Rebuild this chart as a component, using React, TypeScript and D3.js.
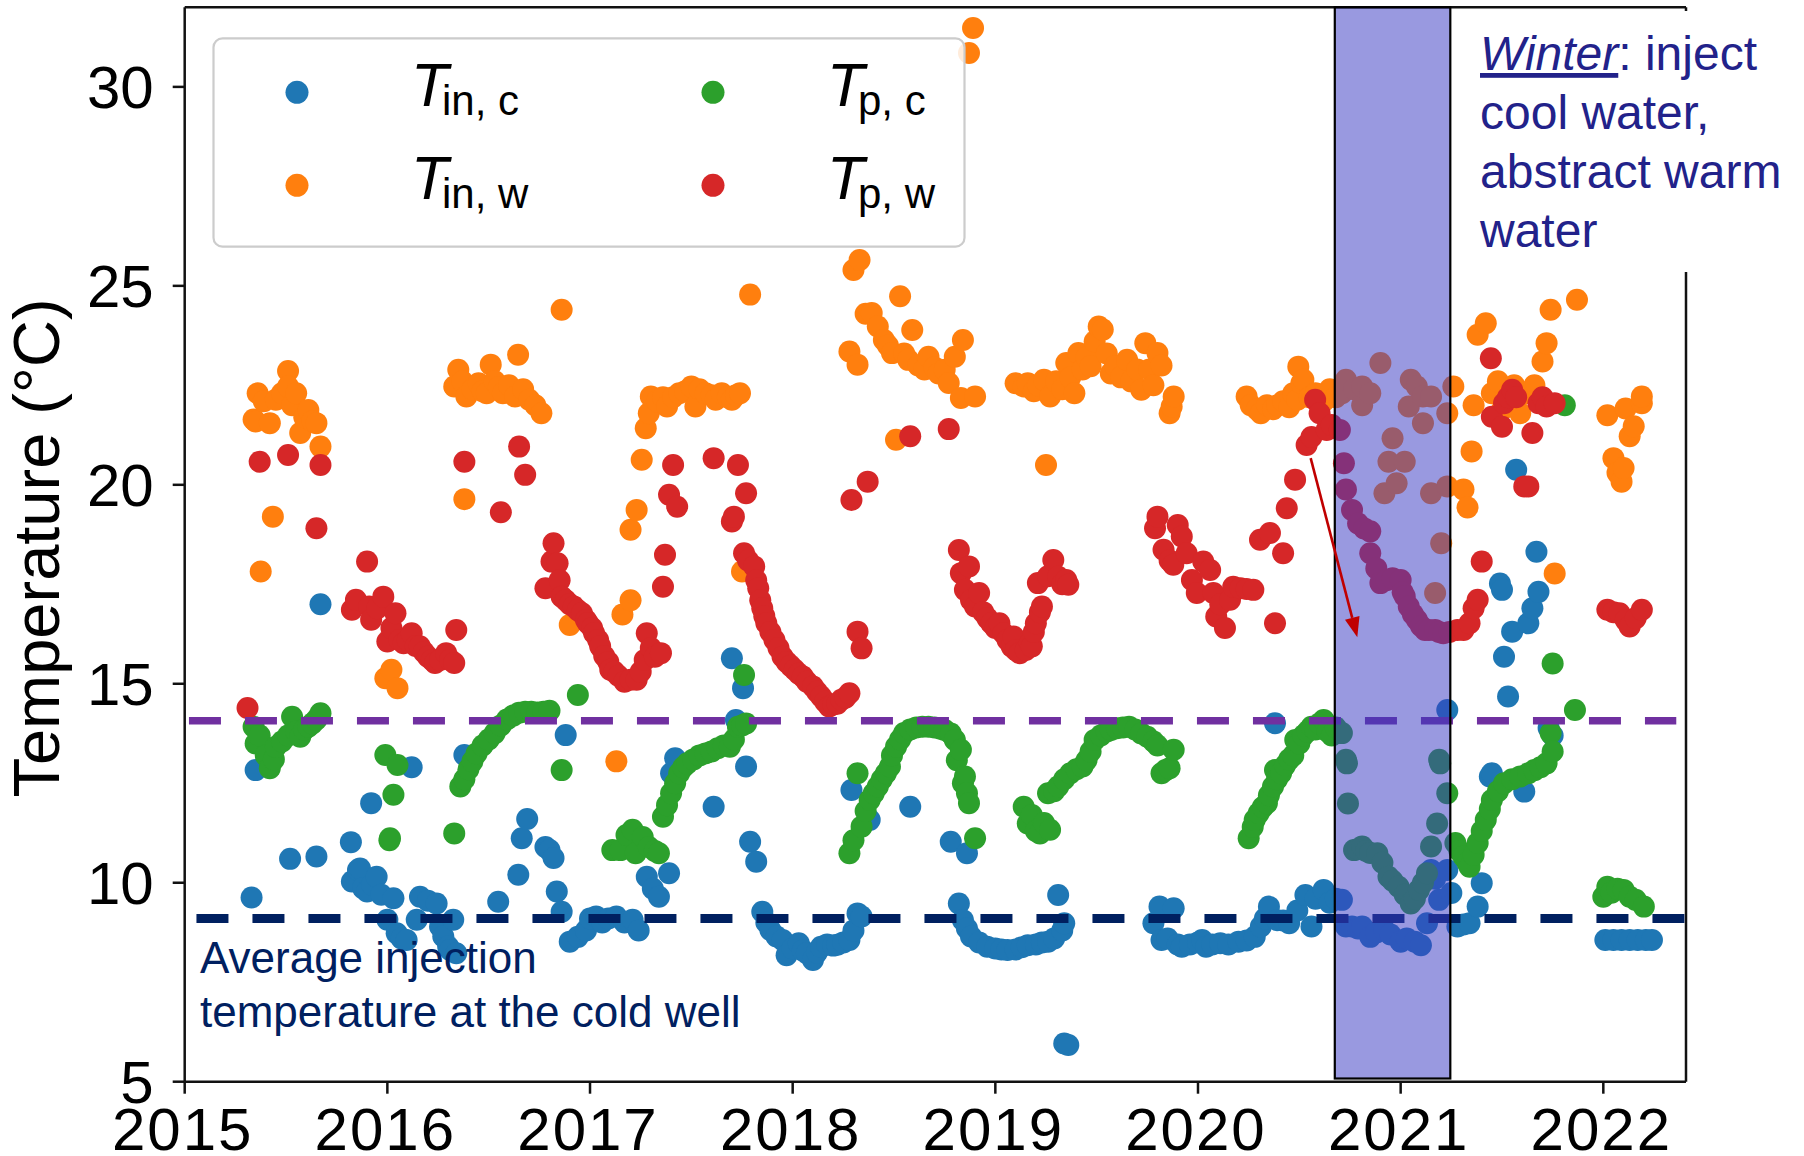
import React from "react";
import * as d3 from "d3";

type Pt = [number, number];

// Axis ticks
const yearTicks = [2015, 2016, 2017, 2018, 2019, 2020, 2021, 2022];
const tempTicks = [5, 10, 15, 20, 25, 30];

// Injection temperature, cold well  [decimal year, °C]
const tInCold: Pt[] = [
  [2015.33, 9.63], [2015.35, 12.83], [2015.52, 10.6], [2015.65, 10.66], [2015.67, 17.0],
  [2015.82, 11.02], [2015.825, 10.03], [2015.855, 10.32], [2015.865, 10.36], [2015.88, 9.86], [2015.9, 9.78],
  [2015.92, 12.0], [2015.925, 9.95], [2015.947, 10.15], [2015.97, 9.7], [2016.0, 9.07], [2016.03, 9.61],
  [2016.046, 8.73], [2016.07, 8.6], [2016.095, 8.56], [2016.12, 12.9], [2016.145, 9.07], [2016.161, 9.65],
  [2016.2, 9.55], [2016.243, 9.48], [2016.26, 8.9], [2016.276, 8.65], [2016.3, 8.4], [2016.31, 8.31],
  [2016.325, 9.07], [2016.34, 8.23], [2016.38, 13.21],
  [2016.547, 9.52], [2016.646, 10.2], [2016.663, 11.12], [2016.69, 11.6], [2016.78, 10.9], [2016.8, 10.82],
  [2016.82, 10.62], [2016.836, 9.78], [2016.86, 9.27], [2016.88, 13.71], [2016.9, 8.52], [2016.94, 8.64],
  [2016.98, 8.8], [2017.0, 9.1], [2017.03, 9.15], [2017.06, 9.0], [2017.09, 9.1], [2017.13, 9.15],
  [2017.17, 9.0], [2017.21, 9.07], [2017.24, 8.8],
  [2017.28, 10.15], [2017.31, 9.85], [2017.34, 9.65], [2017.39, 10.24], [2017.4, 12.75], [2017.42, 13.13],
  [2017.61, 11.91], [2017.7, 15.64], [2017.72, 14.09], [2017.755, 14.89], [2017.77, 12.92], [2017.79, 11.03],
  [2017.82, 10.53],
  [2017.85, 9.27], [2017.87, 9.0], [2017.89, 8.81], [2017.92, 8.65], [2017.95, 8.56], [2017.97, 8.18],
  [2018.0, 8.35], [2018.03, 8.48], [2018.05, 8.3], [2018.07, 8.23], [2018.1, 8.06], [2018.12, 8.25],
  [2018.14, 8.39], [2018.17, 8.45], [2018.2, 8.42], [2018.22, 8.44], [2018.25, 8.5], [2018.28, 8.56],
  [2018.3, 8.8], [2018.32, 9.23], [2018.34, 9.15],
  [2018.29, 12.33], [2018.38, 11.58], [2018.58, 11.91], [2018.78, 11.03], [2018.86, 10.74],
  [2018.82, 9.48], [2018.84, 9.06], [2018.86, 8.85], [2018.88, 8.65], [2018.92, 8.5], [2018.96, 8.39],
  [2019.0, 8.35], [2019.03, 8.32], [2019.06, 8.31], [2019.1, 8.32], [2019.13, 8.38], [2019.16, 8.43],
  [2019.2, 8.45], [2019.23, 8.5], [2019.26, 8.52], [2019.29, 8.6], [2019.31, 9.69], [2019.33, 8.8],
  [2019.34, 8.98], [2019.34, 5.96], [2019.36, 5.92],
  [2019.78, 8.98], [2019.81, 9.4], [2019.82, 8.56], [2019.85, 8.6], [2019.88, 9.36], [2019.9, 8.45],
  [2019.92, 8.39], [2019.96, 8.45], [2020.0, 8.5], [2020.02, 8.56], [2020.04, 8.39], [2020.07, 8.45],
  [2020.11, 8.48], [2020.15, 8.45], [2020.2, 8.52], [2020.24, 8.55], [2020.28, 8.64], [2020.31, 8.9],
  [2020.33, 9.1], [2020.35, 9.4], [2020.38, 14.01], [2020.39, 9.06], [2020.42, 9.05], [2020.45, 8.98],
  [2020.49, 9.3], [2020.53, 9.69], [2020.56, 8.9], [2020.58, 9.6], [2020.62, 9.82], [2020.65, 9.5],
  [2020.68, 9.6],
  [2020.71, 9.57], [2020.73, 8.9], [2020.76, 8.9], [2020.79, 8.85], [2020.81, 8.9], [2020.85, 8.64],
  [2020.88, 8.75], [2020.92, 8.81], [2020.95, 8.7], [2021.0, 8.52], [2021.03, 8.6], [2021.07, 8.52],
  [2021.1, 8.43], [2021.13, 8.98], [2021.15, 10.32], [2021.17, 10.1], [2021.19, 9.57], [2021.23, 10.32],
  [2021.23, 14.34], [2021.25, 9.74],
  [2021.28, 8.9], [2021.31, 8.95], [2021.34, 8.98], [2021.38, 9.4], [2021.4, 9.99], [2021.44, 12.67],
  [2021.45, 12.75], [2021.49, 17.52], [2021.5, 17.36], [2021.51, 15.68], [2021.53, 14.68], [2021.55, 16.31],
  [2021.57, 20.38], [2021.61, 12.29], [2021.63, 16.52], [2021.65, 16.9], [2021.67, 18.32], [2021.68, 17.31],
  [2021.73, 13.89], [2021.75, 13.7],
  [2022.01, 8.56], [2022.05, 8.56], [2022.09, 8.56], [2022.13, 8.56], [2022.17, 8.56], [2022.21, 8.56],
  [2022.24, 8.56],
];

// Injection temperature, warm well
const tInWarm: Pt[] = [
  [2015.34, 21.64], [2015.35, 21.59], [2015.36, 22.3], [2015.375, 17.82], [2015.39, 22.1], [2015.42, 21.55],
  [2015.435, 19.2], [2015.45, 22.14], [2015.48, 22.3], [2015.51, 22.86], [2015.51, 22.47], [2015.53, 22.0],
  [2015.55, 22.3], [2015.57, 21.3], [2015.59, 21.7], [2015.61, 21.88], [2015.63, 21.6], [2015.65, 21.55],
  [2015.67, 20.96],
  [2015.99, 15.14], [2016.02, 15.35], [2016.05, 14.89],
  [2016.33, 22.47], [2016.35, 22.89], [2016.37, 22.6], [2016.38, 19.64], [2016.39, 22.22], [2016.42, 22.4],
  [2016.45, 22.55], [2016.47, 22.35], [2016.49, 22.3], [2016.51, 23.02], [2016.53, 22.6], [2016.55, 22.45],
  [2016.57, 22.3], [2016.6, 22.5], [2016.63, 22.22], [2016.645, 23.27], [2016.67, 22.4], [2016.7, 22.14],
  [2016.73, 22.0], [2016.76, 21.8], [2016.86, 24.4], [2016.9, 16.48],
  [2017.13, 13.05], [2017.16, 16.74], [2017.2, 17.1], [2017.2, 18.87], [2017.23, 19.37], [2017.255, 20.63],
  [2017.275, 21.42], [2017.29, 21.8], [2017.3, 22.22], [2017.33, 22.1], [2017.36, 22.2], [2017.38, 21.97],
  [2017.41, 22.2], [2017.44, 22.3], [2017.47, 22.35], [2017.5, 22.47], [2017.52, 21.97], [2017.54, 22.4],
  [2017.57, 22.3], [2017.6, 22.25], [2017.62, 22.14], [2017.65, 22.3], [2017.68, 22.2], [2017.7, 22.14],
  [2017.72, 22.25], [2017.74, 22.3], [2017.75, 17.82], [2017.79, 24.78],
  [2018.28, 23.35], [2018.3, 25.4], [2018.32, 23.02], [2018.33, 25.65], [2018.36, 24.3], [2018.39, 24.32],
  [2018.42, 23.98], [2018.45, 23.64], [2018.47, 23.5], [2018.49, 23.31], [2018.51, 21.13], [2018.53, 24.74],
  [2018.55, 23.3], [2018.57, 23.14], [2018.59, 23.89], [2018.62, 23.0], [2018.65, 22.9], [2018.67, 23.22],
  [2018.7, 22.95], [2018.72, 22.8], [2018.75, 22.89], [2018.77, 22.56], [2018.8, 23.22], [2018.83, 22.18],
  [2018.84, 23.64], [2018.87, 30.85], [2018.89, 31.48], [2018.9, 22.22],
  [2019.1, 22.55], [2019.14, 22.47], [2019.16, 22.55], [2019.19, 22.35], [2019.21, 22.5], [2019.24, 22.64],
  [2019.25, 20.5], [2019.27, 22.22], [2019.3, 22.6], [2019.33, 22.4], [2019.35, 23.06], [2019.37, 22.7],
  [2019.39, 22.3], [2019.41, 23.31], [2019.43, 22.9], [2019.45, 23.2], [2019.47, 22.98], [2019.49, 23.6],
  [2019.51, 23.98], [2019.53, 23.9], [2019.55, 23.3], [2019.57, 22.8], [2019.59, 22.98], [2019.62, 22.7],
  [2019.65, 23.14], [2019.67, 22.6], [2019.7, 22.9], [2019.72, 22.39], [2019.74, 23.56], [2019.76, 22.9],
  [2019.78, 22.5], [2019.8, 23.31], [2019.82, 23.0], [2019.86, 21.8], [2019.87, 21.97], [2019.88, 22.22],
  [2020.24, 22.22], [2020.26, 22.0], [2020.29, 21.9], [2020.31, 21.8], [2020.34, 22.0], [2020.37, 21.9],
  [2020.39, 22.0], [2020.42, 22.1], [2020.45, 21.95], [2020.47, 22.3], [2020.49, 22.14], [2020.495, 22.97],
  [2020.51, 22.55], [2020.52, 22.64], [2020.55, 22.2], [2020.58, 22.3], [2020.62, 22.1], [2020.65, 22.4],
  [2020.68, 22.2],
  [2020.71, 22.3], [2020.73, 22.64], [2020.77, 22.4], [2020.81, 22.0], [2020.81, 22.47], [2020.85, 22.3],
  [2020.9, 23.06], [2020.92, 19.79], [2020.94, 20.58], [2020.96, 21.17], [2020.98, 20.04], [2021.02, 20.58],
  [2021.04, 21.97], [2021.05, 22.64], [2021.08, 22.47], [2021.11, 21.55], [2021.11, 22.22], [2021.15, 22.22],
  [2021.15, 19.79], [2021.17, 17.28], [2021.2, 18.53], [2021.23, 21.8], [2021.23, 19.96],
  [2021.26, 22.47], [2021.31, 19.88], [2021.33, 19.43], [2021.35, 20.84], [2021.36, 22.0], [2021.38, 23.77],
  [2021.42, 24.06], [2021.45, 22.3], [2021.48, 22.6], [2021.5, 21.88], [2021.53, 22.2], [2021.56, 22.5],
  [2021.59, 21.8], [2021.62, 22.3], [2021.66, 22.5], [2021.7, 23.1], [2021.72, 23.56], [2021.74, 24.4],
  [2021.76, 17.77], [2021.87, 24.65],
  [2022.02, 21.75], [2022.05, 20.67], [2022.07, 20.3], [2022.09, 20.08], [2022.1, 20.42], [2022.11, 21.92],
  [2022.13, 21.22], [2022.15, 21.47], [2022.19, 22.05], [2022.19, 22.22],
];

// Production temperature, cold well
const tProdCold: Pt[] = [
  [2015.34, 13.92], [2015.35, 13.5], [2015.37, 13.7], [2015.4, 13.2], [2015.42, 12.88], [2015.44, 13.1],
  [2015.45, 13.42], [2015.48, 13.55], [2015.51, 13.7], [2015.53, 14.17], [2015.55, 13.8], [2015.57, 13.67],
  [2015.59, 13.85], [2015.61, 13.92], [2015.63, 14.0], [2015.65, 14.1], [2015.67, 14.26],
  [2015.99, 13.21], [2016.01, 11.07], [2016.013, 11.12], [2016.03, 12.21], [2016.05, 12.96],
  [2016.33, 11.24], [2016.36, 12.42], [2016.38, 12.6], [2016.4, 12.85], [2016.42, 13.05], [2016.44, 13.25],
  [2016.47, 13.45], [2016.5, 13.6], [2016.53, 13.76], [2016.56, 13.95], [2016.59, 14.1], [2016.62, 14.2],
  [2016.65, 14.27], [2016.68, 14.3], [2016.71, 14.3], [2016.74, 14.28], [2016.77, 14.3], [2016.8, 14.32],
  [2016.86, 12.83], [2016.94, 14.72],
  [2017.11, 10.82], [2017.15, 10.82], [2017.18, 11.2], [2017.21, 11.33], [2017.225, 10.74], [2017.26, 11.15],
  [2017.29, 10.9], [2017.32, 10.8], [2017.34, 10.74], [2017.36, 11.66], [2017.38, 11.95], [2017.4, 12.25],
  [2017.42, 12.5], [2017.44, 12.75], [2017.46, 12.9], [2017.48, 13.0], [2017.51, 13.1], [2017.54, 13.2],
  [2017.57, 13.25], [2017.6, 13.3], [2017.63, 13.38], [2017.66, 13.45], [2017.69, 13.42], [2017.71, 13.6],
  [2017.73, 13.92], [2017.75, 13.95], [2017.76, 15.22], [2017.77, 14.0],
  [2018.28, 10.74], [2018.3, 11.07], [2018.32, 12.75], [2018.34, 11.41], [2018.36, 11.8], [2018.38, 12.08],
  [2018.4, 12.25], [2018.42, 12.42], [2018.44, 12.6], [2018.46, 12.75], [2018.48, 12.92], [2018.49, 13.2],
  [2018.51, 13.42], [2018.53, 13.6], [2018.55, 13.76], [2018.58, 13.85], [2018.61, 13.9], [2018.64, 13.92],
  [2018.67, 13.92], [2018.7, 13.9], [2018.73, 13.87], [2018.75, 13.84], [2018.78, 13.75], [2018.8, 13.59],
  [2018.81, 13.08], [2018.83, 13.34], [2018.84, 12.5], [2018.85, 12.67], [2018.86, 12.25], [2018.87, 12.0],
  [2018.9, 11.12],
  [2019.14, 11.91], [2019.16, 11.49], [2019.18, 11.7], [2019.2, 11.3], [2019.22, 11.24], [2019.24, 11.5],
  [2019.26, 12.25], [2019.27, 11.33], [2019.29, 12.3], [2019.31, 12.42], [2019.34, 12.6], [2019.37, 12.75],
  [2019.4, 12.85], [2019.43, 12.92], [2019.45, 13.08], [2019.47, 13.3], [2019.49, 13.59], [2019.52, 13.7],
  [2019.55, 13.8], [2019.57, 13.84], [2019.6, 13.88], [2019.63, 13.9], [2019.66, 13.92], [2019.69, 13.85],
  [2019.72, 13.75], [2019.75, 13.67], [2019.78, 13.55], [2019.8, 13.45], [2019.82, 12.75], [2019.84, 12.83],
  [2019.86, 12.88], [2019.88, 13.34],
  [2020.25, 11.12], [2020.27, 11.4], [2020.28, 11.58], [2020.3, 11.75], [2020.32, 11.9], [2020.34, 12.0],
  [2020.35, 12.2], [2020.37, 12.42], [2020.38, 12.83], [2020.39, 12.6], [2020.41, 12.75], [2020.43, 12.95],
  [2020.45, 13.1], [2020.47, 13.2], [2020.48, 13.59], [2020.5, 13.5], [2020.52, 13.7], [2020.54, 13.8],
  [2020.56, 13.92], [2020.58, 13.85], [2020.6, 14.0], [2020.62, 14.09], [2020.64, 13.8], [2020.66, 13.7],
  [2020.68, 13.9],
  [2020.71, 13.76], [2020.73, 13.09], [2020.735, 13.0], [2020.74, 11.99], [2020.77, 10.82], [2020.79, 10.85],
  [2020.81, 10.91], [2020.83, 10.8], [2020.85, 10.75], [2020.885, 10.74], [2020.91, 10.5], [2020.94, 10.15],
  [2020.96, 10.05], [2020.99, 9.9], [2021.02, 9.7], [2021.05, 9.48], [2021.07, 9.6], [2021.09, 9.82],
  [2021.11, 10.0], [2021.13, 10.24], [2021.15, 10.91], [2021.18, 11.49], [2021.19, 13.09], [2021.195, 13.0],
  [2021.23, 12.25],
  [2021.27, 11.0], [2021.29, 10.8], [2021.31, 10.66], [2021.33, 10.5], [2021.34, 10.4], [2021.36, 10.7],
  [2021.38, 11.0], [2021.4, 11.3], [2021.42, 11.58], [2021.44, 11.85], [2021.45, 12.08], [2021.48, 12.3],
  [2021.51, 12.5], [2021.55, 12.6], [2021.59, 12.67], [2021.63, 12.75], [2021.66, 12.83], [2021.69, 12.9],
  [2021.72, 13.0], [2021.74, 13.76], [2021.75, 13.3], [2021.75, 15.51], [2021.79, 25.64], [2021.81, 22.0],
  [2021.86, 14.34],
  [2022.0, 9.65], [2022.02, 9.9], [2022.04, 9.75], [2022.07, 9.85], [2022.1, 9.82], [2022.13, 9.65],
  [2022.16, 9.57], [2022.2, 9.4],
];

// Production temperature, warm well
const tProdWarm: Pt[] = [
  [2015.31, 14.39], [2015.37, 20.58], [2015.51, 20.75], [2015.65, 18.91], [2015.67, 20.5],
  [2015.825, 16.86], [2015.845, 17.11], [2015.9, 18.07], [2015.91, 16.94], [2015.92, 16.61], [2015.95, 16.9],
  [2015.98, 17.19], [2016.0, 16.06], [2016.02, 16.4], [2016.04, 16.77], [2016.06, 16.1], [2016.08, 16.02],
  [2016.1, 16.1], [2016.12, 16.27], [2016.14, 15.95], [2016.16, 15.94], [2016.18, 15.8], [2016.2, 15.68],
  [2016.22, 15.6], [2016.235, 15.52], [2016.26, 15.6], [2016.29, 15.77], [2016.31, 15.6], [2016.33, 15.52],
  [2016.34, 16.35],
  [2016.38, 20.58], [2016.56, 19.31], [2016.65, 20.96], [2016.68, 20.25],
  [2016.78, 17.4], [2016.81, 18.07], [2016.82, 18.53], [2016.84, 18.03], [2016.85, 17.6], [2016.86, 17.19],
  [2016.88, 17.1], [2016.9, 17.0], [2016.92, 16.94], [2016.94, 16.85], [2016.96, 16.77], [2016.98, 16.6],
  [2016.99, 16.52], [2017.01, 16.4], [2017.02, 16.27], [2017.04, 16.1], [2017.05, 15.94], [2017.07, 15.7],
  [2017.09, 15.55], [2017.1, 15.35], [2017.12, 15.3], [2017.14, 15.2], [2017.17, 15.05], [2017.2, 15.1],
  [2017.23, 15.1], [2017.25, 15.3], [2017.27, 15.6], [2017.28, 16.27], [2017.3, 15.9], [2017.32, 15.68],
  [2017.35, 15.77],
  [2017.36, 17.44], [2017.37, 18.24], [2017.39, 19.75], [2017.41, 20.5], [2017.43, 19.45], [2017.61, 20.67],
  [2017.7, 19.08], [2017.71, 19.2], [2017.73, 20.5], [2017.77, 19.79],
  [2017.76, 18.28], [2017.78, 18.1], [2017.81, 17.95], [2017.82, 17.6], [2017.83, 17.4], [2017.84, 17.1],
  [2017.85, 16.9], [2017.86, 16.7], [2017.87, 16.52], [2017.89, 16.3], [2017.91, 16.1], [2017.93, 15.9],
  [2017.95, 15.68], [2017.97, 15.55], [2017.99, 15.45], [2018.01, 15.35], [2018.03, 15.25], [2018.05, 15.18],
  [2018.07, 15.05], [2018.1, 14.93], [2018.12, 14.8], [2018.14, 14.68], [2018.16, 14.55], [2018.18, 14.43],
  [2018.2, 14.48], [2018.22, 14.5], [2018.24, 14.6], [2018.26, 14.65], [2018.28, 14.76],
  [2018.29, 19.62], [2018.32, 16.31], [2018.34, 15.89], [2018.37, 20.08], [2018.58, 21.22], [2018.77, 21.4],
  [2018.82, 18.36], [2018.83, 17.78], [2018.85, 17.36], [2018.87, 17.95], [2018.88, 17.1], [2018.9, 16.94],
  [2018.92, 17.28], [2018.94, 16.8], [2018.96, 16.65], [2018.98, 16.52], [2019.0, 16.4], [2019.02, 16.52],
  [2019.04, 16.27], [2019.06, 16.1], [2019.08, 15.94], [2019.09, 16.19], [2019.1, 15.85], [2019.12, 15.77],
  [2019.15, 15.85], [2019.17, 16.02], [2019.18, 15.94], [2019.19, 16.3], [2019.2, 16.52], [2019.21, 17.53],
  [2019.22, 16.8], [2019.23, 16.94], [2019.26, 17.7], [2019.286, 18.11], [2019.31, 17.69], [2019.33, 17.5],
  [2019.35, 17.61], [2019.36, 17.49],
  [2019.788, 18.91], [2019.8, 19.2], [2019.83, 18.37], [2019.86, 18.1], [2019.878, 17.99], [2019.9, 18.99],
  [2019.92, 18.7], [2019.944, 18.28], [2019.97, 17.61], [2019.994, 17.28], [2020.026, 18.07], [2020.06, 17.86],
  [2020.076, 17.28], [2020.09, 16.69], [2020.11, 17.0], [2020.133, 16.4], [2020.158, 17.11], [2020.174, 17.44],
  [2020.21, 17.4], [2020.24, 17.38], [2020.273, 17.36], [2020.306, 18.62], [2020.355, 18.79], [2020.38, 16.52],
  [2020.42, 18.28], [2020.438, 19.41], [2020.479, 20.13], [2020.536, 21.0], [2020.56, 21.2], [2020.578, 22.14],
  [2020.6, 21.8], [2020.635, 21.38], [2020.66, 21.5],
  [2020.7, 21.38], [2020.72, 20.54], [2020.73, 19.88], [2020.76, 19.37], [2020.79, 19.03], [2020.82, 18.9],
  [2020.85, 18.83], [2020.85, 18.28], [2020.88, 17.9], [2020.9, 17.53], [2020.93, 17.6], [2020.96, 17.65],
  [2021.0, 17.61], [2021.01, 17.3], [2021.02, 17.2], [2021.04, 16.94], [2021.06, 16.75], [2021.08, 16.61],
  [2021.1, 16.45], [2021.12, 16.35], [2021.14, 16.35], [2021.17, 16.35], [2021.19, 16.3], [2021.21, 16.27],
  [2021.24, 16.3],
  [2021.28, 16.35], [2021.31, 16.35], [2021.34, 16.52], [2021.36, 16.9], [2021.38, 17.11], [2021.4, 18.07],
  [2021.445, 23.18], [2021.45, 21.71], [2021.5, 21.46], [2021.51, 22.05], [2021.53, 22.2], [2021.55, 22.39],
  [2021.57, 22.2], [2021.61, 19.96], [2021.63, 19.96], [2021.65, 21.3], [2021.68, 22.05], [2021.7, 22.2],
  [2021.72, 21.97], [2021.76, 22.05],
  [2022.02, 16.86], [2022.05, 16.8], [2022.08, 16.77], [2022.11, 16.6], [2022.13, 16.44], [2022.16, 16.65],
  [2022.19, 16.86],
];

const seriesData = [tInCold, tInWarm, tProdCold, tProdWarm];
const seriesSubscripts = ["in, c", "in, w", "p, c", "p, w"];
const seriesColors = ["#1f77b4", "#ff7f0e", "#2ca02c", "#d62728"];

// Reference levels and annotations
const coldInjectionAvg = 9.1;
const coldInjectionSpan: [number, number] = [2015.058, 2022.4];
const upperLevel = 14.07;
const upperLevelSpan: [number, number] = [2015.021, 2022.36];
const winterSpan: [number, number] = [2020.675, 2021.245];
const arrowFrom: Pt = [2020.556, 20.67];
const arrowTo: Pt = [2020.786, 16.17];

const xDomain: [number, number] = [2015, 2022.408];
const yDomain: [number, number] = [5, 32];

const W = 1804;
const H = 1156;
const plot = { left: 184.7, right: 1686, top: 7.3, bottom: 1081.7 };
const sans = "'Liberation Sans', Arial, Helvetica, sans-serif";
const navy = "#002060";
const winterBlue = "#22228a";

export default function App() {
  const x = d3.scaleLinear().domain(xDomain).range([plot.left, plot.right]);
  const y = d3.scaleLinear().domain(yDomain).range([plot.bottom, plot.top]);

  // arrow geometry
  const ax0 = x(arrowFrom[0]);
  const ay0 = y(arrowFrom[1]);
  const ax1 = x(arrowTo[0]);
  const ay1 = y(arrowTo[1]);
  const ang = Math.atan2(ay1 - ay0, ax1 - ax0);
  const headLen = 20;
  const headHalf = 7.5;
  const bx = ax1 - headLen * Math.cos(ang);
  const by = ay1 - headLen * Math.sin(ang);
  const px = -Math.sin(ang);
  const py = Math.cos(ang);
  const head = `${ax1},${ay1} ${bx + headHalf * px},${by + headHalf * py} ${bx - headHalf * px},${by - headHalf * py}`;

  const legendRows = [
    { col: 0, row: 0, s: 0 },
    { col: 0, row: 1, s: 1 },
    { col: 1, row: 0, s: 2 },
    { col: 1, row: 1, s: 3 },
  ];

  return (
    <div style={{ position: "absolute", left: 0, top: 0, width: W, height: H, background: "#fff" }}>
      <svg width={W} height={H} viewBox={`0 0 ${W} ${H}`} style={{ display: "block" }}>
        <rect x={0} y={0} width={W} height={H} fill="#fff" />

        {/* scatter series */}
        {seriesData.map((pts, si) => (
          <g key={si} fill={seriesColors[si]}>
            {pts.map((p, i) => (
              <circle key={i} cx={x(p[0])} cy={y(p[1])} r={11} />
            ))}
          </g>
        ))}

        {/* spines */}
        <g stroke="#111" strokeWidth={2.5} fill="none">
          <line x1={plot.left} x2={plot.left} y1={plot.top} y2={plot.bottom} />
          <line x1={plot.left} x2={plot.right} y1={plot.bottom} y2={plot.bottom} />
          <line x1={plot.left} x2={plot.right} y1={plot.top} y2={plot.top} />
          <line x1={plot.right} x2={plot.right} y1={plot.top} y2={plot.bottom} />
        </g>

        {/* y ticks */}
        {tempTicks.map((t) => (
          <g key={t}>
            <line x1={plot.left - 12} x2={plot.left} y1={y(t)} y2={y(t)} stroke="#111" strokeWidth={2.5} />
            <text x={plot.left - 31} y={y(t) + 21.5} textAnchor="end" fontFamily={sans} fontSize={60} fill="#000">
              {t}
            </text>
          </g>
        ))}

        {/* x ticks */}
        {yearTicks.map((t) => (
          <g key={t}>
            <line x1={x(t)} x2={x(t)} y1={plot.bottom} y2={plot.bottom + 12} stroke="#111" strokeWidth={2.5} />
            <text x={x(t) - 2} y={1150} textAnchor="middle" fontFamily={sans} fontSize={60} letterSpacing={2} fill="#000">
              {t}
            </text>
          </g>
        ))}

        {/* y-axis title */}
        <text
          transform={`translate(59, 548) rotate(-90)`}
          textAnchor="middle"
          fontFamily={sans}
          fontSize={65}
          fill="#000"
        >
          Temperature (°C)
        </text>

        {/* reference levels */}
        <line
          x1={x(upperLevelSpan[0])}
          x2={x(upperLevelSpan[1])}
          y1={y(upperLevel)}
          y2={y(upperLevel)}
          stroke="#7030a0"
          strokeWidth={7.5}
          strokeDasharray="32 24"
        />
        <line
          x1={x(coldInjectionSpan[0])}
          x2={x(coldInjectionSpan[1])}
          y1={y(coldInjectionAvg)}
          y2={y(coldInjectionAvg)}
          stroke={navy}
          strokeWidth={9}
          strokeDasharray="32 24"
        />

        {/* winter operation window */}
        <rect
          x={x(winterSpan[0])}
          y={y(32)}
          width={x(winterSpan[1]) - x(winterSpan[0])}
          height={y(5.08) - y(32)}
          fill="rgb(59,59,195)"
          fillOpacity={0.52}
          stroke="#000"
          strokeWidth={2.2}
        />

        {/* arrow */}
        <line x1={ax0} y1={ay0} x2={bx} y2={by} stroke="#c00000" strokeWidth={2.6} />
        <polygon points={head} fill="#c00000" />

        {/* legend */}
        <rect x={213.5} y={38.3} width={751} height={208.4} rx={9} fill="#fff" fillOpacity={0.85} stroke="#cccccc" strokeWidth={2.2} />
        {legendRows.map(({ col, row, s }) => {
          const mx = 297 + col * 416;
          const my = 92.3 + row * 93;
          const tx = 411 + col * 416;
          return (
            <g key={s}>
              <circle cx={mx} cy={my} r={11.5} fill={seriesColors[s]} />
              <text x={tx} y={my + 14} fontFamily={sans} fontSize={61} fontStyle="italic" fill="#000">
                T
              </text>
              <text x={tx + 31} y={my + 23} fontFamily={sans} fontSize={42} fill="#000">
                {seriesSubscripts[s]}
              </text>
            </g>
          );
        })}

        {/* winter note */}
        <rect x={1457} y={11} width={W - 1457} height={261} fill="#fff" />
        <g fontFamily={sans} fontSize={48} fill={winterBlue}>
          <text x={1480} y={70}>
            <tspan fontStyle="italic" textDecoration="underline">Winter</tspan>: inject
          </text>
          <text x={1480} y={129}>cool water,</text>
          <text x={1480} y={188}>abstract warm</text>
          <text x={1480} y={247}>water</text>
        </g>

        {/* cold well note */}
        <g fontFamily={sans} fontSize={44} fill={navy}>
          <text x={200} y={973}>Average injection</text>
          <text x={200} y={1027}>temperature at the cold well</text>
        </g>
      </svg>
    </div>
  );
}
